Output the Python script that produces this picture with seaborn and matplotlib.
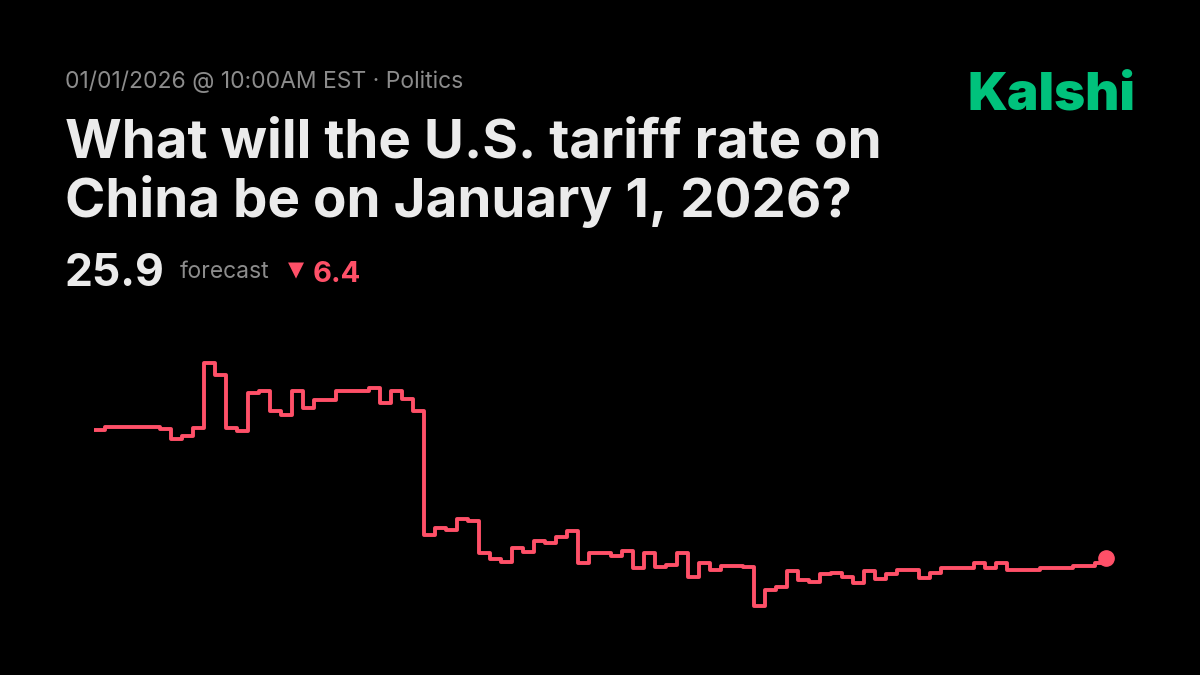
import matplotlib
matplotlib.use("Agg")
import matplotlib.pyplot as plt
import seaborn as sns
import pandas as pd

# forecast values, one per sampling step
forecast = [
    32.3, 32.45, 32.45, 32.45, 32.45, 32.45, 32.35, 31.85, 32.0, 32.4,
    35.65, 35.05, 32.4, 32.25, 34.15, 34.25, 33.25, 33.05, 34.25, 33.4,
    33.8, 33.8, 34.25, 34.25, 34.25, 34.4, 33.65, 34.25, 33.85, 33.25,
    27.05, 27.4, 27.3, 27.85, 27.75, 26.15, 25.85, 25.7, 26.4, 26.2,
    26.75, 26.65, 26.95, 27.25, 25.65, 26.15, 26.15, 26.0, 26.25, 25.4,
    26.15, 25.45, 25.55, 26.15, 24.95, 25.65, 25.3, 25.5, 25.5, 25.45,
    23.5, 24.3, 24.45, 25.25, 24.8, 24.7, 25.1, 25.15, 24.95, 24.65,
    25.25, 24.85, 25.1, 25.3, 25.3, 24.9, 25.15, 25.4, 25.4, 25.4,
    25.65, 25.4, 25.65, 25.3, 25.3, 25.3, 25.4, 25.4, 25.4, 25.5,
    25.5, 25.65, 25.9,
]
current = "25.9"
change = "6.4"
subtitle = "01/01/2026 @ 10:00AM EST \u00b7 Politics"
title_lines = ["What will the U.S. tariff rate on", "China be on January 1, 2026?"]

df = pd.DataFrame({"step": range(len(forecast)), "value": forecast})

sns.set_theme(style="dark")
plt.rcParams["font.family"] = ["Inter", "DejaVu Sans"]

RED = "#ff5068"
fig = plt.figure(figsize=(12, 6.75), dpi=100, facecolor="black")

ax = fig.add_axes([94 / 1200, 45 / 675, 1012 / 1200, 290 / 675])
ax.set_facecolor("black")
sns.lineplot(data=df, x="step", y="value", ax=ax, color=RED, linewidth=2.8,
             drawstyle="steps-post", solid_joinstyle="round", solid_capstyle="round")
ax.plot(df["step"].iloc[-1], df["value"].iloc[-1], "o", color=RED,
        markersize=11, clip_on=False)
ax.set_xlim(0, len(forecast) - 1)
ax.set_ylim(22.3, 36.8)
ax.axis("off")

fig.text(65 / 1200, 1 - 88 / 675, subtitle, color="#8c8c8c", fontsize=16.5)
fig.text(65 / 1200, 1 - 157 / 675, title_lines[0], color="#ebebeb",
         fontsize=39.4, fontweight="bold")
fig.text(65 / 1200, 1 - 217 / 675, title_lines[1], color="#ebebeb",
         fontsize=39.4, fontweight="bold")
fig.text(65 / 1200, 1 - 286 / 675, current, color="#ebebeb",
         fontsize=32, fontweight="bold")
fig.text(180 / 1200, 1 - 278 / 675, "forecast", color="#8c8c8c", fontsize=16.5)
fig.text(288 / 1200, 1 - 276 / 675, "\u25bc", color=RED, fontsize=15,
         family=["DejaVu Sans"])
fig.text(313 / 1200, 1 - 282 / 675, change, color=RED, fontsize=21,
         fontweight="bold")
fig.text(1136 / 1200, 1 - 109 / 675, "Kalshi", color="#00c27c", fontsize=38,
         fontweight=900, ha="right")

fig.savefig("out.png", dpi=100, facecolor="black")
